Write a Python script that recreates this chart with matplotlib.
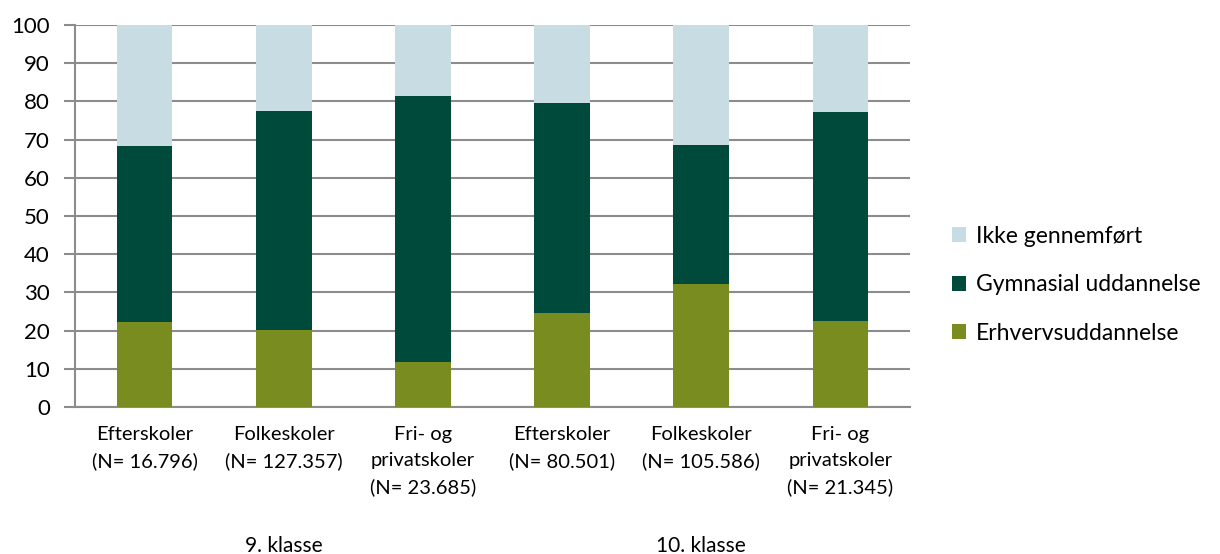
import matplotlib.pyplot as plt
import numpy as np

plt.rcParams['font.family'] = ['Lato', 'DejaVu Sans']

# data
categories = ["Efterskoler\n(N= 16.796)", "Folkeskoler\n(N= 127.357)", "Fri- og\nprivatskoler\n(N= 23.685)",
              "Efterskoler\n(N= 80.501)", "Folkeskoler\n(N= 105.586)", "Fri- og\nprivatskoler\n(N= 21.345)"]
groups = ["9. klasse", "10. klasse"]
erhverv = [22.2, 20.1, 11.7, 24.5, 32.3, 22.5]
gymnasial = [46.2, 57.5, 69.7, 55.1, 36.2, 54.7]
ikke = [31.6, 22.4, 18.6, 20.4, 31.5, 22.8]
series_names = ["Erhvervsuddannelse", "Gymnasial uddannelse", "Ikke gennemført"]
colors = ["#788C20", "#004A3B", "#C8DCE4"]

fig = plt.figure(figsize=(12.2, 5.54), dpi=100)
ax = fig.add_axes([75 / 1220, 1 - 407 / 554, 835 / 1220, 382 / 554])

x = np.arange(len(categories))
bottom = np.zeros(len(categories))
handles = []
for vals, name, c in zip([erhverv, gymnasial, ikke], series_names, colors):
    b = ax.bar(x, vals, 0.4, bottom=bottom, color=c, label=name, zorder=3)
    handles.append(b)
    bottom += np.array(vals)

ax.set_xlim(-0.5, len(categories) - 0.5)
ax.set_ylim(0, 100)
ax.set_yticks(range(0, 101, 10))
ax.yaxis.grid(True, color="#8C8C8C", linewidth=1.5, zorder=0)
ax.tick_params(axis='y', length=8, width=1.5, color="#8C8C8C", labelsize=16, pad=10)
ax.tick_params(axis='x', length=0, labelsize=14.5, pad=14)
ax.set_xticks(x)
ax.set_xticklabels(categories, linespacing=1.6)
for s in ["top", "right"]:
    ax.spines[s].set_visible(False)
for s in ["left", "bottom"]:
    ax.spines[s].set_color("#8C8C8C")
    ax.spines[s].set_linewidth(1.5)

# group labels
for i, g in enumerate(groups):
    ax.text(1 + 3 * i, -36.5, g, ha='center', va='center', fontsize=15)

ax.legend(handles[::-1], series_names[::-1], loc='center left', bbox_to_anchor=(1.025, 0.32),
          frameon=False, fontsize=16.5, handlelength=0.65, handleheight=0.65,
          handletextpad=0.4, labelspacing=1.2)

fig.savefig("out.png", dpi=100)
